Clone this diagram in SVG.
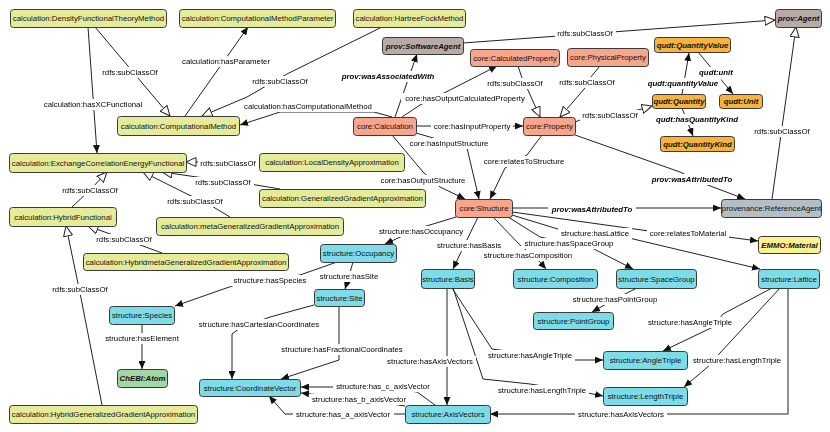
<svg xmlns="http://www.w3.org/2000/svg" width="830" height="432" viewBox="0 0 830 432">
<style>
text{font-family:"Liberation Sans",Arial,sans-serif;font-size:7.8px;fill:#111}
.n rect{stroke:#3a3a3a;stroke-width:1}
.n text{text-anchor:middle}
.c rect{fill:#e6eb9c}
.k rect{fill:#f8a58d}
.p rect{fill:#b9aaa5}
.q rect{fill:#f6b43d}
.s rect{fill:#7ddce7}
.r rect{fill:#b4bfc5}
.e rect{fill:#fcf08f}
.g rect{fill:#a3d6a5}
.bi{font-weight:bold;font-style:italic}
.ed polyline{fill:none;stroke:#222;stroke-width:1}
.a{marker-end:url(#arr)}
.t{marker-end:url(#tri)}
.lb text{text-anchor:middle;filter:url(#bg);fill:#000}
</style>
<defs>
<marker id="arr" markerUnits="userSpaceOnUse" markerWidth="9" markerHeight="7" refX="8" refY="3.5" orient="auto"><path d="M0,0 L8,3.5 L0,7 z" fill="#111"/></marker>
<marker id="tri" markerUnits="userSpaceOnUse" markerWidth="12" markerHeight="10" refX="10.5" refY="5" orient="auto"><path d="M0.5,0.5 L10.5,5 L0.5,9.5 z" fill="#fff" stroke="#222" stroke-width="1"/></marker>
<filter id="bg" x="-0.03" y="-0.05" width="1.06" height="1.1" color-interpolation-filters="sRGB"><feFlood flood-color="#ffffff" result="f"/><feMerge><feMergeNode in="f"/><feMergeNode in="SourceGraphic"/></feMerge></filter>
</defs>
<rect width="830" height="432" fill="#fff"/>
<g id="connectors" class="ed">
<polyline class="t" points="95,27 170,116"/>
<polyline class="a" points="88,27 97,153"/>
<polyline class="a" points="185,116 248,27"/>
<polyline class="t" points="382,27 287,74 247,97 202,116"/>
<polyline class="a" points="392,117 374,112 280,112 240,125"/>
<polyline class="a" points="395,117 417,54"/>
<polyline class="a" points="402,117 420,105 452,89 497,66"/>
<polyline class="a" points="416,126 523,126"/>
<polyline class="a" points="416,133 440,140 467,148 479,199"/>
<polyline class="a" points="392,135 423,172 440,187 465,199"/>
<polyline class="a" points="542,135 527,155 505,168 490,199"/>
<polyline class="t" points="518,66 522,78 527,88 540,117"/>
<polyline class="t" points="600,66 590,78 585,88 560,117"/>
<polyline class="t" points="575,122 585,118 638,110 652,106"/>
<polyline class="a" points="682,94 689,53"/>
<polyline class="a" points="698,52 733,94"/>
<polyline class="a" points="682,108 693,136"/>
<polyline class="t" points="463,43 775,20"/>
<polyline class="t" points="772,199 796,27"/>
<polyline class="a" points="575,135 680,172 705,184 745,199"/>
<polyline class="a" points="512,208 721,208"/>
<polyline class="a" points="512,212 649,231 728,237 758,241"/>
<polyline class="a" points="512,215 561,230 629,238 760,269"/>
<polyline class="a" points="508,217 540,237 592,248 633,269"/>
<polyline class="a" points="493,217 520,245 540,262 546,269"/>
<polyline class="a" points="478,217 462,250 453,269"/>
<polyline class="a" points="456,217 420,228 385,244"/>
<polyline class="a" points="353,262 349,276 345,289"/>
<polyline class="a" points="337,262 300,275 235,285 175,306"/>
<polyline class="a" points="142,324 142,369"/>
<polyline class="a" points="314,305 270,317 240,328 232,334 232,379"/>
<polyline class="a" points="339,306 339,360 281,379"/>
<polyline class="a" points="435,405 417,392 383,387 301,387"/>
<polyline class="a" points="405,406 359,399 301,393"/>
<polyline class="a" points="405,414 285,414 269,396"/>
<polyline class="a" points="447,288 447,405"/>
<polyline class="a" points="452,288 492,349 575,360 603,360"/>
<polyline class="a" points="453,288 483,379 530,384 588,393 603,396"/>
<polyline class="a" points="788,288 788,414 490,414"/>
<polyline class="a" points="772,288 723,314 713,327 663,351"/>
<polyline class="a" points="780,288 720,353 710,365 684,387"/>
<polyline class="a" points="637,288 615,299 592,312"/>
<polyline class="t" points="259,162 186,162"/>
<polyline class="t" points="280,189 250,184 197,177 162,172"/>
<polyline class="t" points="230,217 210,205 185,193 143,172"/>
<polyline class="t" points="72,207 90,190 107,172"/>
<polyline class="t" points="162,253 124,239 88,226"/>
<polyline class="t" points="102,405 80,293 66,226"/>
<g class="lb">
<text x="130" y="75">rdfs:subClassOf</text>
<text x="93" y="107">calculation:hasXCFunctional</text>
<text x="226" y="64">calculation:hasParameter</text>
<text x="280" y="84">rdfs:subClassOf</text>
<text x="308" y="109">calculation:hasComputationalMethod</text>
<text x="388" y="79" class="bi">prov:wasAssociatedWith</text>
<text x="465" y="101">core:hasOutputCalculatedProperty</text>
<text x="472" y="129">core:hasInputProperty</text>
<text x="449" y="146">core:hasInputStructure</text>
<text x="423" y="183">core:hasOutputStructure</text>
<text x="524" y="164">core:relatesToStructure</text>
<text x="515" y="86">rdfs:subClassOf</text>
<text x="587" y="85">rdfs:subClassOf</text>
<text x="610" y="118">rdfs:subClassOf</text>
<text x="683" y="86" class="bi">qudt:quantityValue</text>
<text x="716" y="75" class="bi">qudt:unit</text>
<text x="697" y="122" class="bi">qudt:hasQuantityKind</text>
<text x="585" y="36">rdfs:subClassOf</text>
<text x="782" y="134">rdfs:subClassOf</text>
<text x="692" y="182" class="bi">prov:wasAttributedTo</text>
<text x="592" y="212" class="bi">prov:wasAttributedTo</text>
<text x="688" y="236">core:relatesToMaterial</text>
<text x="595" y="236">structure:hasLattice</text>
<text x="569" y="246">structure:hasSpaceGroup</text>
<text x="528" y="258">structure:hasComposition</text>
<text x="469" y="248">structure:hasBasis</text>
<text x="421" y="234">structure:hasOccupancy</text>
<text x="349" y="279">structure:hasSite</text>
<text x="270" y="283">structure:hasSpecies</text>
<text x="142" y="341">structure:hasElement</text>
<text x="259" y="327">structure:hasCartesianCoordinates</text>
<text x="342" y="352">structure:hasFractionalCoordinates</text>
<text x="383" y="389">structure:has_c_axisVector</text>
<text x="359" y="402">structure:has_b_axisVector</text>
<text x="343" y="417">structure:has_a_axisVector</text>
<text x="430" y="364">structure:hasAxisVectors</text>
<text x="530" y="358">structure:hasAngleTriple</text>
<text x="542" y="393">structure:hasLengthTriple</text>
<text x="621" y="417">structure:hasAxisVectors</text>
<text x="690" y="325">structure:hasAngleTriple</text>
<text x="737" y="363">structure:hasLengthTriple</text>
<text x="615" y="302">structure:hasPointGroup</text>
<text x="228" y="166">rdfs:subClassOf</text>
<text x="223" y="185">rdfs:subClassOf</text>
<text x="195" y="204">rdfs:subClassOf</text>
<text x="90" y="193">rdfs:subClassOf</text>
<text x="124" y="242">rdfs:subClassOf</text>
<text x="80" y="292">rdfs:subClassOf</text>
</g>
</g>
<g id="n_dft" class="n c"><rect x="10.5" y="9.5" width="156" height="18" rx="3"/><text x="88.5" y="21.3">calculation:DensityFunctionalTheoryMethod</text></g>
<g id="n_cmp" class="n c"><rect x="179.5" y="9.5" width="156" height="18" rx="3"/><text x="257.5" y="21.3">calculation:ComputationalMethodParameter</text></g>
<g id="n_hf" class="n c"><rect x="353.5" y="9.5" width="112" height="18" rx="3"/><text x="409.5" y="21.3">calculation:HartreeFockMethod</text></g>
<g id="n_cm" class="n c"><rect x="117.5" y="116.5" width="122" height="19" rx="3"/><text x="178.5" y="128.8">calculation:ComputationalMethod</text></g>
<g id="n_xc" class="n c"><rect x="9.5" y="153.5" width="177" height="19" rx="3"/><text x="98" y="165.8">calculation:ExchangeCorrelationEnergyFunctional</text></g>
<g id="n_lda" class="n c"><rect x="259.5" y="153.5" width="145" height="18" rx="3"/><text x="332" y="165.3">calculation:LocalDensityApproximation</text></g>
<g id="n_gga" class="n c"><rect x="259.5" y="189.5" width="166" height="18" rx="3"/><text x="342.5" y="201.3">calculation:GeneralizedGradientApproximation</text></g>
<g id="n_mgga" class="n c"><rect x="156.5" y="217.5" width="187" height="18" rx="3"/><text x="250" y="229.3">calculation:metaGeneralizedGradientApproximation</text></g>
<g id="n_hyb" class="n c"><rect x="9.5" y="207.5" width="107" height="19" rx="3"/><text x="63" y="219.8">calculation:HybridFunctional</text></g>
<g id="n_hmgga" class="n c"><rect x="83.5" y="253.5" width="205" height="17" rx="3"/><text x="186" y="264.8">calculation:HybridmetaGeneralizedGradientApproximation</text></g>
<g id="n_hgga" class="n c"><rect x="9.5" y="405.5" width="188" height="18" rx="3"/><text x="103.5" y="417.3">calculation:HybridGeneralizedGradientApproximation</text></g>
<g id="n_calc" class="n k"><rect x="353.5" y="117.5" width="63" height="18" rx="3"/><text x="385" y="129.3">core:Calculation</text></g>
<g id="n_prop" class="n k"><rect x="523.5" y="117.5" width="52" height="18" rx="3"/><text x="549.5" y="129.3">core:Property</text></g>
<g id="n_cprop" class="n k"><rect x="470.5" y="49.5" width="89" height="17" rx="3"/><text x="515" y="60.8">core:CalculatedProperty</text></g>
<g id="n_pprop" class="n k"><rect x="567.5" y="48.5" width="81" height="18" rx="3"/><text x="608" y="60.3">core:PhysicalProperty</text></g>
<g id="n_struct" class="n k"><rect x="455.5" y="199.5" width="57" height="18" rx="3"/><text x="484" y="211.3">core:Structure</text></g>
<g id="n_sa" class="n p"><rect x="382.5" y="37.5" width="81" height="17" rx="3"/><text x="423" y="48.8" class="bi">prov:SoftwareAgent</text></g>
<g id="n_agent" class="n p"><rect x="775.5" y="9.5" width="46" height="18" rx="3"/><text x="798.5" y="21.3" class="bi">prov:Agent</text></g>
<g id="n_qv" class="n q"><rect x="654.5" y="37.5" width="76" height="15" rx="3"/><text x="692.5" y="47.8" class="bi">qudt:QuantityValue</text></g>
<g id="n_q" class="n q"><rect x="652.5" y="94.5" width="53" height="14" rx="3"/><text x="679" y="104.3" class="bi">qudt:Quantity</text></g>
<g id="n_u" class="n q"><rect x="719.5" y="94.5" width="43" height="14" rx="3"/><text x="741" y="104.3" class="bi">qudt:Unit</text></g>
<g id="n_qk" class="n q"><rect x="660.5" y="136.5" width="74" height="15" rx="3"/><text x="697.5" y="146.8" class="bi">qudt:QuantityKind</text></g>
<g id="n_ra" class="n r"><rect x="721.5" y="199.5" width="100" height="18" rx="3"/><text x="771.5" y="211.3">provenance:ReferenceAgent</text></g>
<g id="n_emmo" class="n e"><rect x="758.5" y="236.5" width="62" height="17" rx="3"/><text x="789.5" y="247.8" class="bi">EMMO:Material</text></g>
<g id="n_atom" class="n g"><rect x="117.5" y="369.5" width="50" height="18" rx="3"/><text x="142.5" y="381.3" class="bi">ChEBI:Atom</text></g>
<g id="n_occ" class="n s"><rect x="320.5" y="244.5" width="76" height="18" rx="3"/><text x="358.5" y="256.3">structure:Occupancy</text></g>
<g id="n_site" class="n s"><rect x="314.5" y="289.5" width="50" height="17" rx="3"/><text x="339.5" y="300.8">structure:Site</text></g>
<g id="n_species" class="n s"><rect x="109.5" y="306.5" width="65" height="18" rx="3"/><text x="142" y="318.3">structure:Species</text></g>
<g id="n_cv" class="n s"><rect x="199.5" y="379.5" width="101" height="17" rx="3"/><text x="250" y="390.8">structure:CoordinateVector</text></g>
<g id="n_av" class="n s"><rect x="405.5" y="405.5" width="85" height="18" rx="3"/><text x="448" y="417.3">structure:AxisVectors</text></g>
<g id="n_basis" class="n s"><rect x="421.5" y="269.5" width="53" height="19" rx="3"/><text x="448" y="281.8">structure:Basis</text></g>
<g id="n_comp" class="n s"><rect x="513.5" y="269.5" width="84" height="19" rx="3"/><text x="555.5" y="281.8">structure:Composition</text></g>
<g id="n_sg" class="n s"><rect x="616.5" y="269.5" width="80" height="19" rx="3"/><text x="656.5" y="281.8">structure:SpaceGroup</text></g>
<g id="n_pg" class="n s"><rect x="533.5" y="312.5" width="80" height="17" rx="3"/><text x="573.5" y="323.8">structure:PointGroup</text></g>
<g id="n_lat" class="n s"><rect x="758.5" y="269.5" width="61" height="19" rx="3"/><text x="789" y="281.8">structure:Lattice</text></g>
<g id="n_at" class="n s"><rect x="603.5" y="351.5" width="84" height="18" rx="3"/><text x="645.5" y="363.3">structure:AngleTriple</text></g>
<g id="n_lt" class="n s"><rect x="603.5" y="387.5" width="84" height="18" rx="3"/><text x="645.5" y="399.3">structure:LengthTriple</text></g>
</svg>
